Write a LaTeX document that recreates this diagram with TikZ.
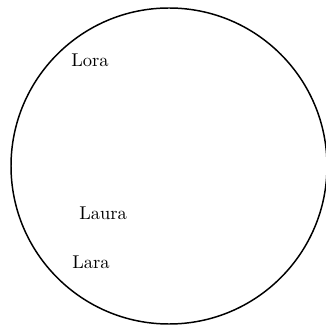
\documentclass[tikz,border=0pt]{standalone}
\usepackage{tikz}
\tikzset{rim/.style={thick,black},
tag/.style={inner sep=1pt,font=\normalsize}}

\begin{document}
\begin{tikzpicture}
\useasboundingbox (-3.209,-3.038) rectangle (2.962,3.152);
\draw[rim] (0,0) circle (3);
\node[tag] (lora) at (-1.5,2.01) {Lora};
\node[tag] (laura) at (-1.25,-0.89) {Laura};
\node[tag] (lara) at (-1.48,-1.82) {Lara};
\end{tikzpicture}
\end{document}
